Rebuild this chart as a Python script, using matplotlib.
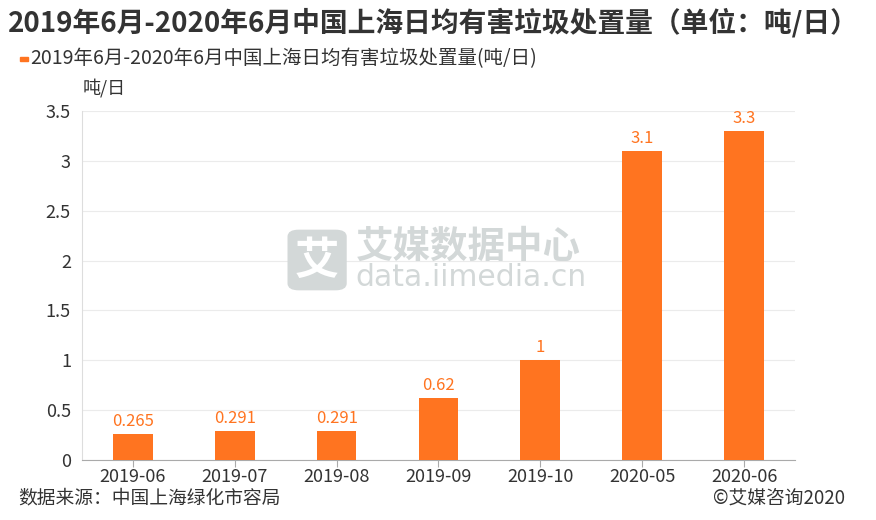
import matplotlib.pyplot as plt
from matplotlib.patches import FancyBboxPatch

plt.rcParams['font.family'] = ['Noto Sans CJK SC', 'DejaVu Sans']

# data
months = ['2019-06', '2019-07', '2019-08', '2019-09', '2019-10', '2020-05', '2020-06']
values = [0.265, 0.291, 0.291, 0.62, 1, 3.1, 3.3]
value_labels = ['0.265', '0.291', '0.291', '0.62', '1', '3.1', '3.3']
yticks = [0, 0.5, 1, 1.5, 2, 2.5, 3, 3.5]
ytick_labels = ['0', '0.5', '1', '1.5', '2', '2.5', '3', '3.5']

orange = '#ff7420'
text_color = '#333333'
wm_color = '#d3d8d8'

fig = plt.figure(figsize=(8.76, 5.2), dpi=100)
ax = fig.add_axes([0.0936, 0.1154, 0.8139, 0.6711])

x = range(len(months))
ax.bar(x, values, width=0.39, color=orange, zorder=3)
for xi, v, lab in zip(x, values, value_labels):
    ax.text(xi, v + 0.04, lab, ha='center', va='bottom', color=orange, fontsize=12)

ax.set_xlim(-0.5, len(months) - 0.5)
ax.set_ylim(0, 3.5)
ax.set_yticks(yticks)
ax.set_yticklabels(ytick_labels, fontsize=13, color=text_color)
ax.set_xticks(list(x))
ax.set_xticklabels(months, fontsize=13, color=text_color)
ax.tick_params(axis='y', length=0, pad=8)
ax.tick_params(axis='x', length=5, color='#aaaaaa', pad=1)
ax.grid(axis='y', color='#ebebeb', linewidth=0.8, zorder=0)
for s in ['top', 'right']:
    ax.spines[s].set_visible(False)
ax.spines['left'].set_color('#dddddd')
ax.spines['bottom'].set_color('#aaaaaa')

# titles and legend
fig.text(0.009, 0.957, '2019年6月-2020年6月中国上海日均有害垃圾处置量（单位：吨/日）',
         fontsize=20, fontweight='bold', color=text_color, va='center')
fig.patches.append(plt.Rectangle((0.0228, 0.883), 0.0092, 0.0077, color=orange,
                                 transform=fig.transFigure, figure=fig))
fig.text(0.034, 0.888, '2019年6月-2020年6月中国上海日均有害垃圾处置量(吨/日)',
         fontsize=14, color=text_color, va='center')
fig.text(0.094, 0.831, '吨/日', fontsize=13, color=text_color, va='center')

# watermark
fig.patches.append(FancyBboxPatch((0.329, 0.443), 0.066, 0.114,
                                  boxstyle='round,pad=0,rounding_size=0.012',
                                  color=wm_color, transform=fig.transFigure, figure=fig, zorder=5))
fig.text(0.362, 0.498, '艾', fontsize=32, fontweight='bold', color='white',
         ha='center', va='center', zorder=6)
fig.text(0.406, 0.527, '艾媒数据中心', fontsize=27, fontweight='bold', color=wm_color,
         va='center', zorder=6)
fig.text(0.406, 0.466, 'data.iimedia.cn', fontsize=21.5, color=wm_color,
         va='center', zorder=6, family=['DejaVu Sans'])

# footer
fig.text(0.021, 0.042, '数据来源：中国上海绿化市容局', fontsize=13.5, color=text_color, va='center')
fig.text(0.965, 0.042, '©艾媒咨询2020', fontsize=13.5, color=text_color, va='center', ha='right')

fig.savefig('out.png', dpi=100)
